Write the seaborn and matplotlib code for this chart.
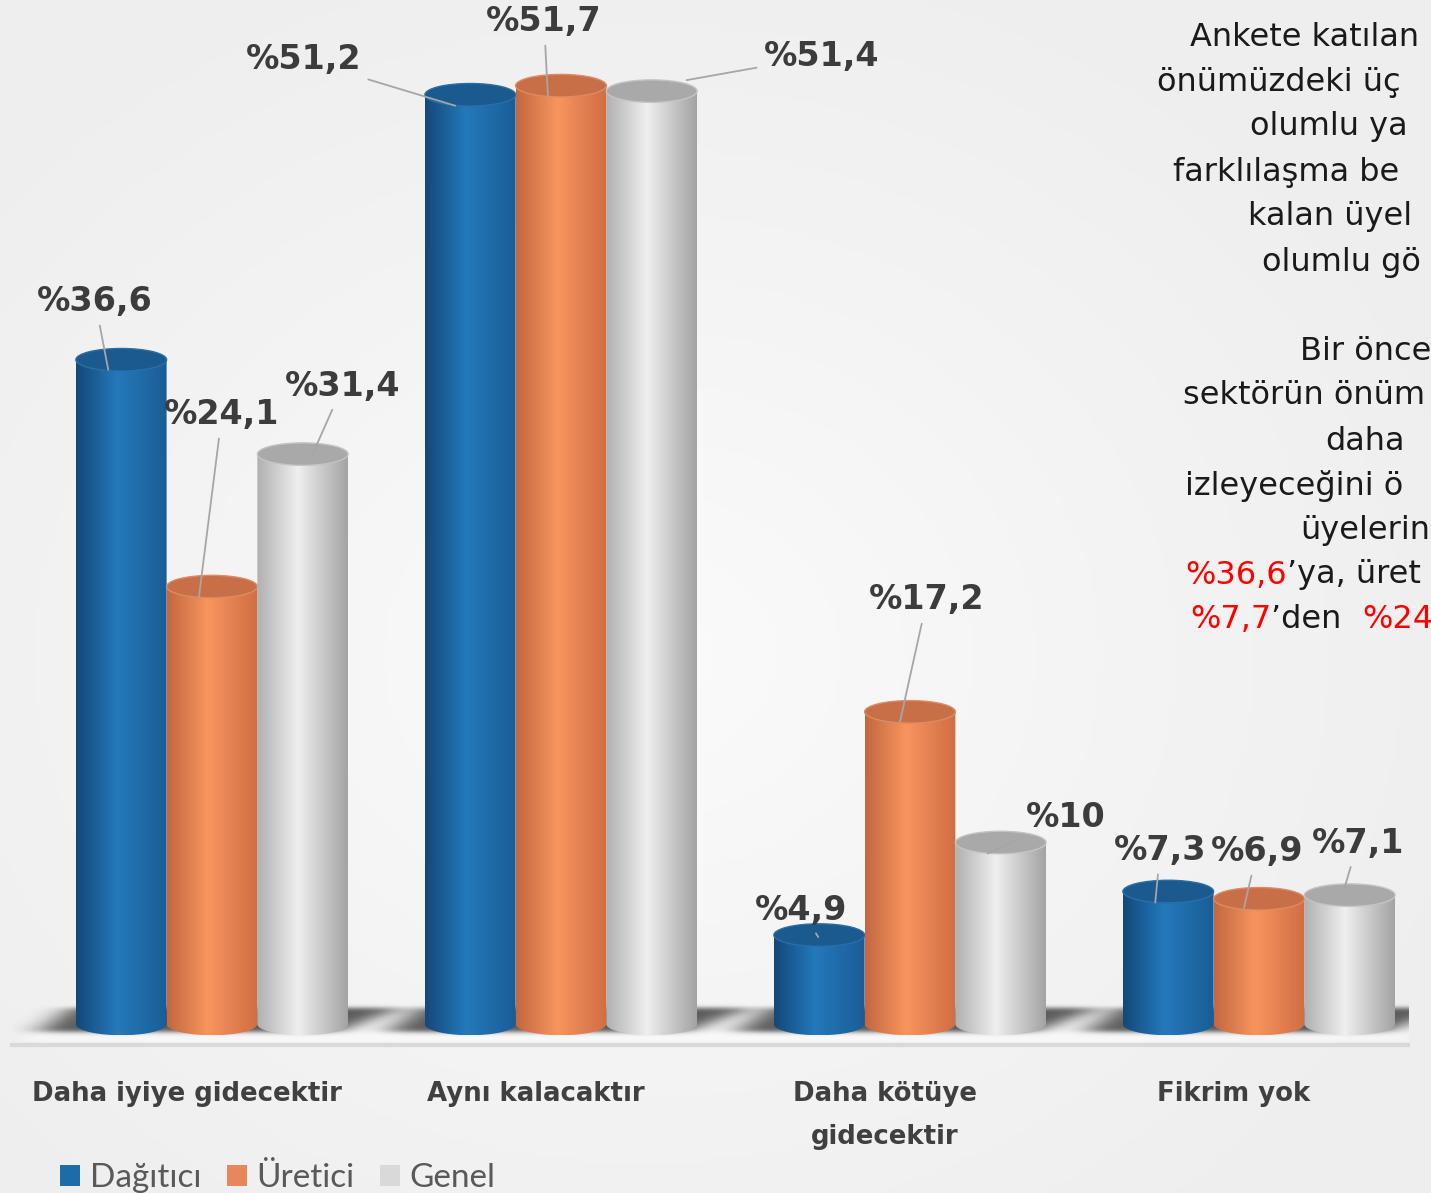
import numpy as np
import pandas as pd
import matplotlib
matplotlib.use("Agg")
import matplotlib.pyplot as plt
import matplotlib.transforms as mtransforms
from matplotlib.colors import LinearSegmentedColormap
from matplotlib.patches import Ellipse, PathPatch, Patch
from matplotlib.path import Path
import seaborn as sns

# data
categories = ["Daha iyiye gidecektir", "Aynı kalacaktır", "Daha kötüye\ngidecektir", "Fikrim yok"]
groups = ["Dağıtıcı", "Üretici", "Genel"]
dagitici = [36.6, 51.2, 4.9, 7.3]
uretici = [24.1, 51.7, 17.2, 6.9]
genel = [31.4, 51.4, 10.0, 7.1]

legend_colors = ["#1c6ca8", "#e8875c", "#d9d9d9"]
# left edge, highlight, right edge, top, rim
cyl_colors = [
    ("#144878", "#2479bb", "#1a5d96", "#1a5a8e", "#2a6ea6"),
    ("#c2673f", "#f8955f", "#d06d43", "#c96f48", "#de8b62"),
    ("#b0b0b0", "#efefef", "#a3a3a3", "#a9a9a9", "#c4c4c4"),
]

# label placement (pixels): line end offset from bar top, text offset from line end
end_off = [[(-13, -10), (-15, -11), (-1, -2), (-13, -11)],
           [(-13, -10), (-13, -11), (-10, -10), (-15, -9)],
           [(9, -2), (35, 11), (-13, -11), (-5, 8)]]
text_off = [[(-13, 68), (-152, 46), (-17, 27), (5, 52)],
            [(23, 182), (-4, 75), (27, 122), (13, 56)],
            [(31, 70), (135, 24), (78, 36), (13, 44)]]

df = pd.DataFrame({
    "kategori": categories * 3,
    "grup": np.repeat(groups, len(categories)),
    "oran": dagitici + uretici + genel,
})

sns.set_style("white")
plt.rcParams["font.family"] = ["DejaVu Sans"]

DPI = 100
W, H = 1431, 1193
fig = plt.figure(figsize=(W / DPI, H / DPI), dpi=DPI, facecolor="#f3f3f3")

# soft radial background
bg = fig.add_axes([0, 0, 1, 1], zorder=-10)
yy, xx = np.mgrid[0:1:200j, 0:1:240j]
r = np.sqrt(((xx - 0.45) / 0.8) ** 2 + ((yy - 0.55) / 0.8) ** 2)
bg_cmap = LinearSegmentedColormap.from_list("bg", ["#fbfbfb", "#f4f4f4", "#eeeeee"])
bg.imshow(r, cmap=bg_cmap, aspect="auto", extent=[0, 1, 0, 1], vmin=0, vmax=0.8)
bg.axis("off")

ax = fig.add_axes([12 / W, 148 / H, 1396 / W, 1045 / H])
ax.set_facecolor("none")
sns.barplot(data=df, x="kategori", y="oran", hue="grup", palette=legend_colors,
            width=0.78, saturation=1, errorbar=None, legend=False, ax=ax)

XL = (-0.573, 3.427)
YL = (-1.157, 56.42)
E = 0.62  # half height of cylinder ellipse (data units)


def blur(a, sx, sy):
    kx = np.exp(-0.5 * (np.arange(-3 * sx, 3 * sx + 1) / sx) ** 2)
    ky = np.exp(-0.5 * (np.arange(-3 * sy, 3 * sy + 1) / sy) ** 2)
    kx /= kx.sum()
    ky /= ky.sum()
    a = np.apply_along_axis(lambda m: np.convolve(m, kx, mode="same"), 1, a)
    a = np.apply_along_axis(lambda m: np.convolve(m, ky, mode="same"), 0, a)
    return a


# floor plane
fx0, fx1, fy0, fy1 = -0.56, 3.43, -1.0, 1.15
fgx, fgy = np.meshgrid(np.linspace(fx0, fx1, 700), np.linspace(fy0, fy1, 60))
floor = ((fgx > -0.54 + 0.05 * (fgy + 0.9)) & (fgy < 1.05)).astype(float)
floor = blur(floor, 4, 2)
rgba = np.ones(fgx.shape + (4,))
rgba[..., 3] = 0.45 * floor
ax.imshow(rgba, extent=[fx0, fx1, fy0, fy1], origin="lower", aspect="auto", zorder=0.5,
          interpolation="bilinear")

# soft shadows behind each group
sx0, sx1, sy0, sy1 = -0.8, 0.8, -1.1, 1.6
gx, gy = np.meshgrid(np.linspace(sx0, sx1, 480), np.linspace(sy0, sy1, 90))
yb, yt = -0.45, 0.85
frac = (gy - yb) / (yt - yb)
xl = -0.50 + 0.09 * frac
xr = 0.36 + 0.18 * frac
mask = ((gx > xl) & (gx < xr) & (gy > yb) & (gy < yt)).astype(float)
mask = blur(mask, 13, 4)
for ci in range(len(categories)):
    rgba = np.zeros(gx.shape + (4,))
    rgba[..., :3] = 0.2
    rgba[..., 3] = 0.8 * mask
    ax.imshow(rgba, extent=[ci + sx0, ci + sx1, sy0, sy1], origin="lower",
              aspect="auto", zorder=1.5, interpolation="bilinear")

# cylinders
theta = np.linspace(np.pi, 2 * np.pi, 60)
grad = np.linspace(0, 1, 256)[None, :]
for hi, cont in enumerate(ax.containers):
    cl, cm_, cr, ctop, crim = cyl_colors[hi]
    cmap = LinearSegmentedColormap.from_list(f"cyl{hi}", [(0, cl), (0.45, cm_), (1, cr)])
    for ci, bar in enumerate(cont):
        x0, w, h = bar.get_x(), bar.get_width(), bar.get_height()
        xc = x0 + w / 2
        bar.set_visible(False)
        z = 3 + hi
        verts = [(x0, h), (x0, 0)]
        verts += list(zip(xc + w / 2 * np.cos(theta), E * np.sin(theta)))
        verts += [(x0 + w, h), (x0, h)]
        pp = PathPatch(Path(verts, closed=True), transform=ax.transData, fc="none", ec="none")
        ax.add_patch(pp)
        im = ax.imshow(grad, extent=[x0, x0 + w, -E, h], cmap=cmap, aspect="auto",
                       origin="lower", zorder=z, interpolation="bicubic")
        im.set_clip_path(pp)
        ax.add_patch(Ellipse((xc, h), w, 2 * E, fc=ctop, ec=crim, lw=1.0, zorder=z + 0.5))

        lbl = "%" + f"{h:g}".replace(".", ",")
        ex, ey = end_off[hi][ci]
        tx, ty = text_off[hi][ci]
        tr = ax.transData + mtransforms.ScaledTranslation(ex / DPI, ey / DPI, fig.dpi_scale_trans)
        ax.annotate(lbl, xy=(xc, h), xycoords=tr, xytext=(tx, ty), textcoords="offset pixels",
                    ha="center", va="center", fontsize=24, fontweight="bold", color="#3c3c3c",
                    arrowprops=dict(arrowstyle="-", color="#a6a6a6", lw=1.3, shrinkA=3, shrinkB=0),
                    zorder=10)

ax.set_xlim(*XL)
ax.set_ylim(*YL)
ax.set_xlabel("")
ax.set_ylabel("")
ax.set_yticks([])
for s in ["top", "left", "right"]:
    ax.spines[s].set_visible(False)
ax.spines["bottom"].set_color("#d9d9d9")
ax.spines["bottom"].set_linewidth(3)
ax.spines["bottom"].set_zorder(0.6)
ax.set_xticks(range(len(categories)), labels=categories, fontsize=18.7, fontweight="bold",
              color="#404040", linespacing=1.85, multialignment="center")
ax.tick_params(axis="x", length=0, pad=26)
shift = mtransforms.ScaledTranslation(-25 / DPI, 0, fig.dpi_scale_trans)
for t in ax.get_xticklabels():
    t.set_transform(t.get_transform() + shift)

# legend
fig.legend(handles=[Patch(fc=c, ec="none") for c in legend_colors], labels=groups,
           loc="lower left", bbox_to_anchor=(60 / W, 0.0), ncol=3, frameon=False,
           prop={"family": "Lato", "size": 24}, labelcolor="#595959",
           handlelength=0.6, handleheight=0.6, handletextpad=0.3,
           columnspacing=0.75, borderpad=0, borderaxespad=0)

# side text (cut at the right edge)
side_lines = [
    (1190, 38, [("Ankete katılan", "#1a1a1a")]),
    (1157, 82, [("önümüzdeki üç", "#1a1a1a")]),
    (1250, 127, [("olumlu ya", "#1a1a1a")]),
    (1173, 172, [("farklılaşma be", "#1a1a1a")]),
    (1248, 216, [("kalan üyel", "#1a1a1a")]),
    (1262, 262, [("olumlu gö", "#1a1a1a")]),
    (1300, 351, [("Bir önce", "#1a1a1a")]),
    (1183, 396, [("sektörün önüm", "#1a1a1a")]),
    (1325, 441, [("daha", "#1a1a1a")]),
    (1185, 486, [("izleyeceğini ö", "#1a1a1a")]),
    (1300, 531, [("üyelerin", "#1a1a1a")]),
    (1185, 575, [("%36,6", "#ff0000"), ("’ya, üret", "#1a1a1a")]),
    (1190, 620, [("%7,7", "#ff0000"), ("’den  ", "#1a1a1a"), ("%24", "#ff0000")]),
]
renderer = fig.canvas.get_renderer()
for px, py, parts in side_lines:
    xpos = px / W
    for txt, col in parts:
        t = fig.text(xpos, 1 - py / H, txt, ha="left", va="center", fontsize=23, color=col)
        bb = t.get_window_extent(renderer)
        xpos = bb.x1 / W

fig.savefig("out.png", dpi=DPI, facecolor=fig.get_facecolor())
